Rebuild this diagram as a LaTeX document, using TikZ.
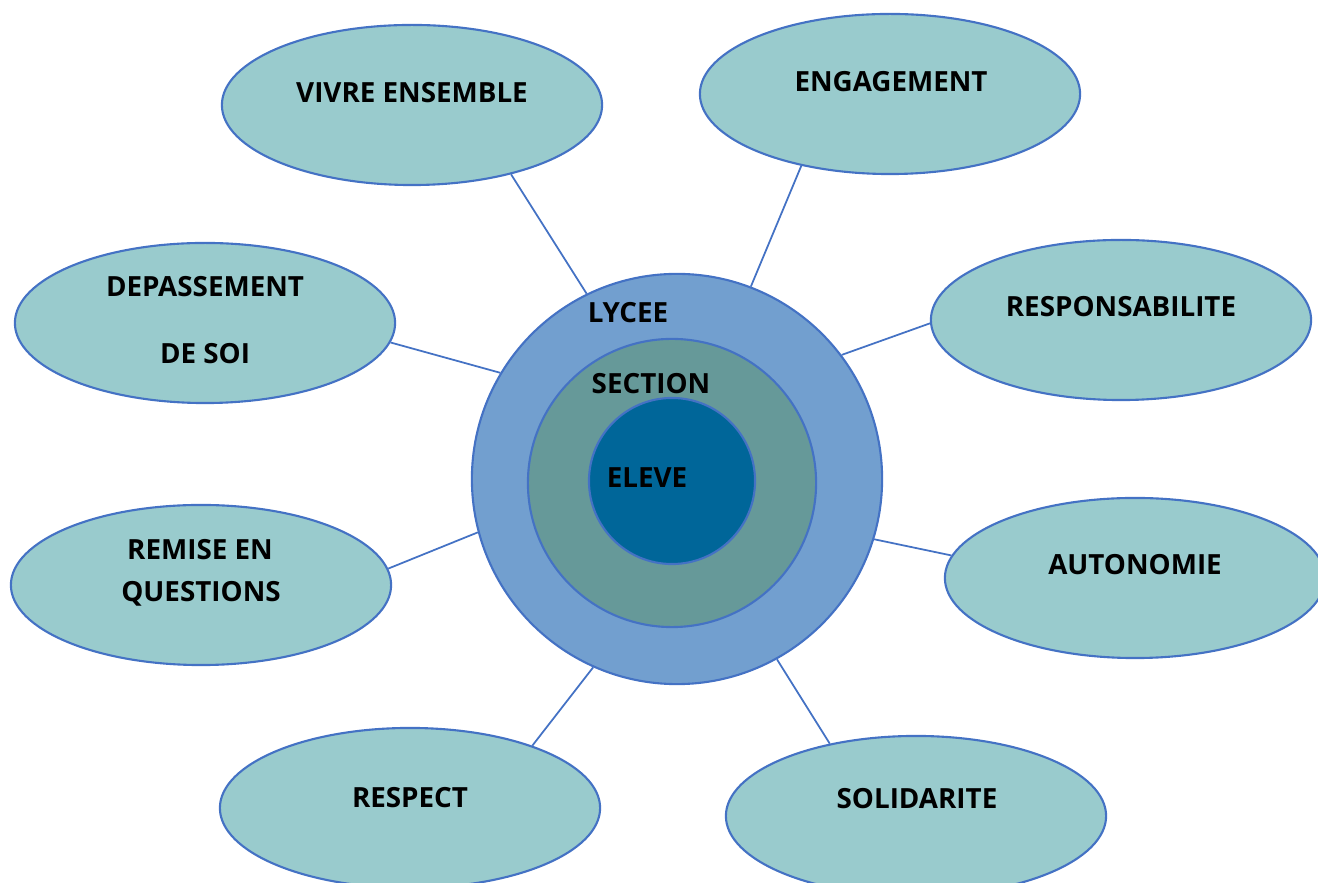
\documentclass[tikz,border=0pt]{standalone}
\usepackage{fontspec}
\setmainfont{Open Sans}
\usetikzlibrary{shapes, positioning}
\definecolor{bubblefill}{HTML}{99CBCD}
\definecolor{edgeblue}{HTML}{4472C4}
\definecolor{lyceefill}{HTML}{729FCF}
\definecolor{sectionfill}{HTML}{669999}
\definecolor{elevefill}{HTML}{006699}

\begin{document}
\begin{tikzpicture}[x=0.01cm, y=-0.01cm,
    bubble/.style={draw=edgeblue, line width=0.6pt, fill=bubblefill, ellipse, minimum width=3.8cm, minimum height=1.6cm, inner sep=0pt},
    ring/.style={draw=edgeblue, line width=0.6pt, circle, inner sep=0pt},
    word/.style={anchor=base, inner sep=0pt, font=\fontsize{7.9}{9}\selectfont\bfseries},
    link/.style={draw=edgeblue, line width=0.5pt}]
  \useasboundingbox (0,0) rectangle (1318,883);
  % the three circles
  \node[ring, fill=lyceefill, minimum size=4.1cm] (lycee) at (677,479) {};
  \node[ring, fill=sectionfill, minimum size=2.88cm] (section) at (672,483) {};
  \node[ring, fill=elevefill, minimum size=1.66cm] (eleve) at (672,481) {};
  \node[word] (lycee-t) at (628,323) {LYCEE};
  \node[word] (section-t) at (651,394) {SECTION};
  \node[word] (eleve-t) at (647,488) {ELEVE};
  % values around
  \node[bubble] (vivre) at (412,105) {};
  \node[bubble] (engage) at (890,94) {};
  \node[bubble] (depasse) at (205,323) {};
  \node[bubble] (respons) at (1121,320) {};
  \node[bubble] (remise) at (201,585) {};
  \node[bubble] (autonom) at (1135,578) {};
  \node[bubble] (respect) at (410,808) {};
  \node[bubble] (solidar) at (916,816) {};
  \node[word] (vivre-t) at (412,103) {VIVRE ENSEMBLE};
  \node[word] (engage-t) at (891,92) {ENGAGEMENT};
  \node[word] (depasse-t1) at (205,297) {DEPASSEMENT};
  \node[word] (depasse-t2) at (205,364) {DE SOI};
  \node[word] (respons-t) at (1121,317) {RESPONSABILITE};
  \node[word] (remise-t1) at (200,560) {REMISE EN};
  \node[word] (remise-t2) at (201,602) {QUESTIONS};
  \node[word] (autonom-t) at (1135,575) {AUTONOMIE};
  \node[word] (respect-t) at (410,808) {RESPECT};
  \node[word] (solidar-t) at (917,809) {SOLIDARITE};
  % links
  \draw[link] (lycee.116.7) -- (vivre.-35.5);
  \draw[link] (lycee.69.2) -- (engage.219.4);
  \draw[link] (lycee.149.4) -- (depasse.-6.6);
  \draw[link] (lycee.37.5) -- (respons.181.6);
  \draw[link] (lycee.195) -- (remise.5.4);
  \draw[link] (lycee.-17) -- (autonom.173.7);
  \draw[link] (lycee.246.8) -- (respect.27.9);
  \draw[link] (lycee.-61.1) -- (solidar.140);
\end{tikzpicture}
\end{document}
